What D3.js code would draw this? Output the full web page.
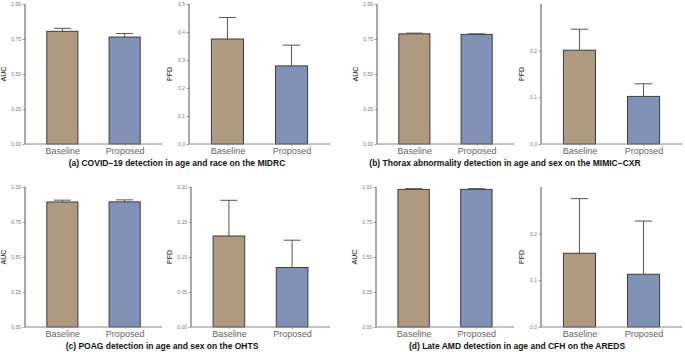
<!DOCTYPE html>
<html>
<head>
<meta charset="utf-8">
<script src="https://cdn.jsdelivr.net/npm/d3@7"></script>
<style>
  body { margin: 0; background: #fff; }
  text { font-family: "Liberation Sans", Arial, sans-serif; }
</style>
</head>
<body>
<div id="chart"></div>
<script>
// data
var categories = ["Baseline", "Proposed"];
var captions = [
  "(a) COVID\u221219 detection in age and race on the MIDRC",
  "(b) Thorax abnormality detection in age and sex on the MIMIC\u2212CXR",
  "(c) POAG detection in age and sex on the OHTS",
  "(d) Late AMD detection in age and CFH on the AREDS"
];
var aucMean = [[0.805, 0.764], [0.787, 0.783], [0.893, 0.894], [0.983, 0.983]];
var aucSd   = [[0.021, 0.025], [0.005, 0.004], [0.013, 0.014], [0.005, 0.005]];
var pfdMean = [[0.375, 0.279], [0.201, 0.102], [0.130, 0.085], [0.158, 0.113]];
var pfdSd   = [[0.077, 0.074], [0.045, 0.027], [0.051, 0.039], [0.117, 0.114]];
var aucTicks = [0, 0.25, 0.5, 0.75, 1];
var pfdMax = [0.5, 0.3, 0.2, 0.3];
var pfdTicks = [[0, 0.1, 0.2, 0.3, 0.4, 0.5], [0, 0.1, 0.2], [0, 0.05, 0.1, 0.15, 0.2], [0, 0.1, 0.2]];
var pfdFormat = [".1f", ".1f", ".2f", ".1f"];

var colors = ["#ad9a80", "#8191b5"];

var width = 685, height = 352;
var svg = d3.select("#chart").append("svg")
  .attr("width", width)
  .attr("height", height);

// panel layout (plot area x ranges, y ranges, caption centres)
var panelX = [[25, 162, 189, 330], [377, 514, 541, 682], [25, 162, 191, 330], [376, 514, 541, 682]];
var panelY = [[4, 144], [4, 144], [187, 327], [187, 327]];
var captionX = [177, 505, 162, 517];

function drawPlot(g, x0, x1, y0, y1, means, sds, ymax, ticks, fmt, label) {
  var x = d3.scalePoint().domain(categories).range([x0, x1]).padding(0.6);
  var step = x.step();
  var barW = step * 0.5;
  var y = d3.scaleLinear().domain([0, ymax]).range([y1, y0]);

  // y axis
  var yAxis = g.append("g")
    .attr("transform", "translate(" + x0 + ",0)")
    .call(d3.axisLeft(y).tickValues(ticks).tickSize(2.5).tickPadding(1.5).tickFormat(d3.format(fmt)));
  yAxis.select(".domain").remove();
  yAxis.selectAll("text").attr("font-size", "5px").attr("fill", "#777");
  yAxis.selectAll("line").attr("stroke", "#666").attr("stroke-width", 0.6);
  g.append("line")
    .attr("x1", x0).attr("x2", x0).attr("y1", y0).attr("y2", y1)
    .attr("stroke", "#444").attr("stroke-width", 0.9);

  // axis title
  var off = fmt == ".2f" ? 19.5 : 17;
  g.append("text")
    .attr("transform", "translate(" + (x0 - off) + "," + ((y0 + y1) / 2) + ") rotate(-90)")
    .attr("text-anchor", "middle")
    .attr("font-size", "7px")
    .attr("fill", "#111")
    .text(label);

  // error bars (upper only)
  g.selectAll(".err")
    .data(categories)
    .enter().append("line")
    .attr("x1", function(d) { return x(d); })
    .attr("x2", function(d) { return x(d); })
    .attr("y1", function(d, i) { return y(means[i]); })
    .attr("y2", function(d, i) { return y(means[i] + sds[i]); })
    .attr("stroke", "#555").attr("stroke-width", 1);
  g.selectAll(".cap")
    .data(categories)
    .enter().append("line")
    .attr("x1", function(d) { return x(d) - barW * 0.27; })
    .attr("x2", function(d) { return x(d) + barW * 0.27; })
    .attr("y1", function(d, i) { return y(means[i] + sds[i]); })
    .attr("y2", function(d, i) { return y(means[i] + sds[i]); })
    .attr("stroke", "#555").attr("stroke-width", 1);

  // bars
  g.selectAll(".bar")
    .data(categories)
    .enter().append("rect")
    .attr("x", function(d) { return x(d) - barW / 2; })
    .attr("width", barW)
    .attr("y", function(d, i) { return y(means[i]); })
    .attr("height", function(d, i) { return y(0) - y(means[i]); })
    .attr("fill", function(d, i) { return colors[i]; })
    .attr("stroke", "#3d3d3d")
    .attr("stroke-width", 1);

  // x axis
  var xAxis = g.append("g")
    .attr("transform", "translate(0," + y1 + ")")
    .call(d3.axisBottom(x).tickSize(2).tickPadding(1.5));
  xAxis.select(".domain").remove();
  xAxis.selectAll("line").attr("stroke", "#888").attr("stroke-width", 0.6);
  xAxis.selectAll("text").attr("font-size", "9px").attr("fill", "#666");
  g.append("line")
    .attr("x1", x0).attr("x2", x1).attr("y1", y1).attr("y2", y1)
    .attr("stroke", "#888").attr("stroke-width", 1);
}

for (var p = 0; p < 4; p++) {
  var g = svg.append("g");
  var px = panelX[p], py = panelY[p];
  drawPlot(g, px[0], px[1], py[0], py[1], aucMean[p], aucSd[p], 1, aucTicks, ".2f", "AUC");
  drawPlot(g, px[2], px[3], py[0], py[1], pfdMean[p], pfdSd[p], pfdMax[p], pfdTicks[p], pfdFormat[p], "PFD");
  g.append("text")
    .attr("x", captionX[p])
    .attr("y", py[1] + 22)
    .attr("text-anchor", "middle")
    .attr("font-size", "8.5px")
    .attr("font-weight", "bold")
    .attr("fill", "#111")
    .text(captions[p]);
}
</script>
</body>
</html>
